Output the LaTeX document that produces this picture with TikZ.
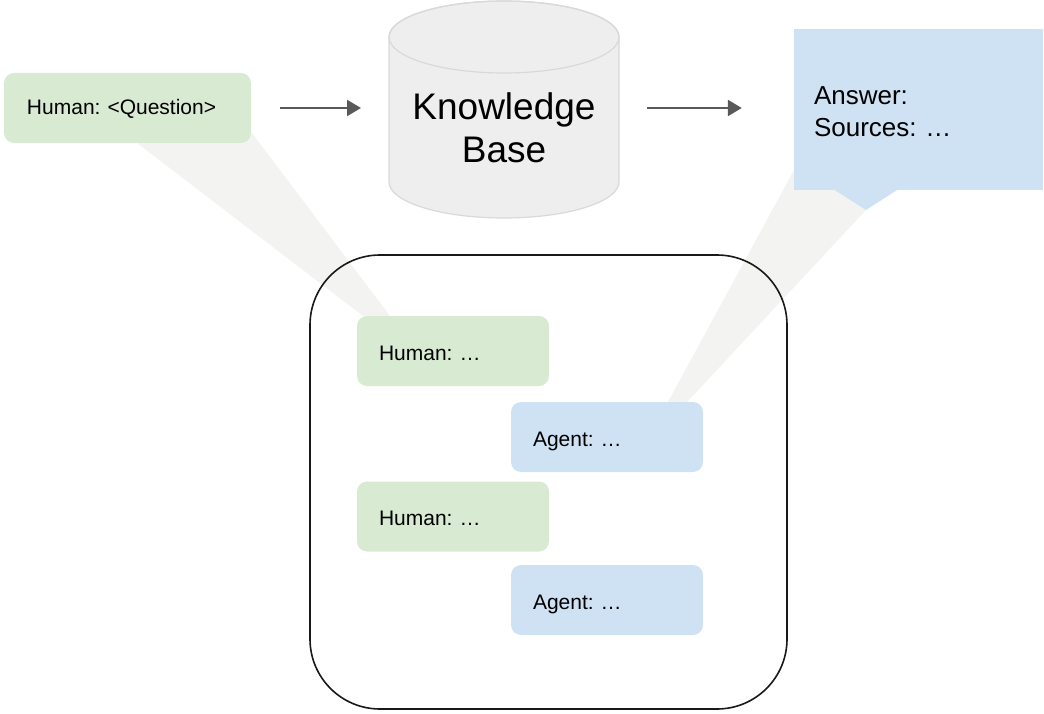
\documentclass[tikz,border=0pt]{standalone}
\usepackage{fontspec}
\setmainfont{Liberation Sans}
\frenchspacing
\usetikzlibrary{arrows.meta, positioning, calc}

\definecolor{humangreen}{HTML}{D9EAD3}
\definecolor{agentblue}{HTML}{CFE2F3}
\definecolor{beamgray}{HTML}{F3F3F2}
\definecolor{kbfill}{HTML}{EEEEEE}
\definecolor{kbline}{HTML}{D9D9D9}
\definecolor{arrgray}{HTML}{595959}

\begin{document}
\begin{tikzpicture}[
        x=1pt, y=-1pt,
        msg/.style={rectangle, rounded corners=10pt, minimum height=70pt, inner xsep=22pt, inner ysep=0pt, text width=148pt, text height=18pt, text depth=0pt, align=left, font=\fontsize{21}{25}\selectfont},
        human/.style={msg, fill=humangreen},
        agent/.style={msg, fill=agentblue},
        beam/.style={fill=beamgray},
        arr/.style={-{Triangle[length=14pt, width=16pt]}, line width=2.5pt, arrgray}
    ]
        \useasboundingbox (0,0) rectangle (1044,714);

        % Highlight beams
        \fill[beam] (137,143) -- (252,133) -- (390,316) -- (363,316) -- cycle;
        \fill[beam] (668,402) -- (687,402) -- (880,195) -- (794,170) -- cycle;

        % Conversation window
        \node[draw=black!90, line width=1.6pt, rounded corners=70pt, minimum width=477pt, minimum height=454pt] (chat) at (548.5,482) {};

        % Messages
        \node[human] (h1) at (453,351) {Human: …};
        \node[agent] (a1) at (607,437) {Agent: …};
        \node[human] (h2) at (453,516.5) {Human: …};
        \node[agent] (a2) at (607,600) {Agent: …};

        % Question
        \node[human, text width=201pt, inner xsep=23pt, text height=16pt, text depth=2pt] (q) at (127.5,108) {Human: <Question>};

        % Knowledge base
        \filldraw[kbfill, draw=kbline, line width=1.2pt] (389,37) -- (389,182)
            arc[start angle=180, end angle=360, x radius=115pt, y radius=36pt] -- (619,37)
            arc[start angle=0, end angle=180, x radius=115pt, y radius=36pt] -- cycle;
        \draw[kbline, line width=1.2pt] (504,37) ellipse[x radius=115pt, y radius=36pt];
        \node[align=center, font=\fontsize{37}{43}\selectfont, inner sep=0pt] (kb) at (504,128) {Knowledge\\Base};
        \coordinate (kbw) at (389,108);
        \coordinate (kbe) at (619,108);

        % Answer
        \node[fill=agentblue, minimum width=249pt, minimum height=161pt, inner xsep=20pt, text width=209pt, text height=22pt, align=left, font=\fontsize{26}{32}\selectfont] (ans) at (918.5,109.5) {Answer:\\Sources: …};
        \coordinate (tip) at (866,210);
        \fill[agentblue] ($(ans.south west)+(41,-3)$) -- ($(ans.south west)+(41,0)$) -- (tip)
            -- ($(ans.south west)+(103,0)$) -- ($(ans.south west)+(103,-3)$) -- cycle;

        % Flow
        \draw[arr, shorten <=29pt, shorten >=28pt] (q.east) -- (kbw);
        \draw[arr, shorten <=28pt, shorten >=52pt] (kbe) -- (ans.west |- kbe);
    \end{tikzpicture}
\end{document}
